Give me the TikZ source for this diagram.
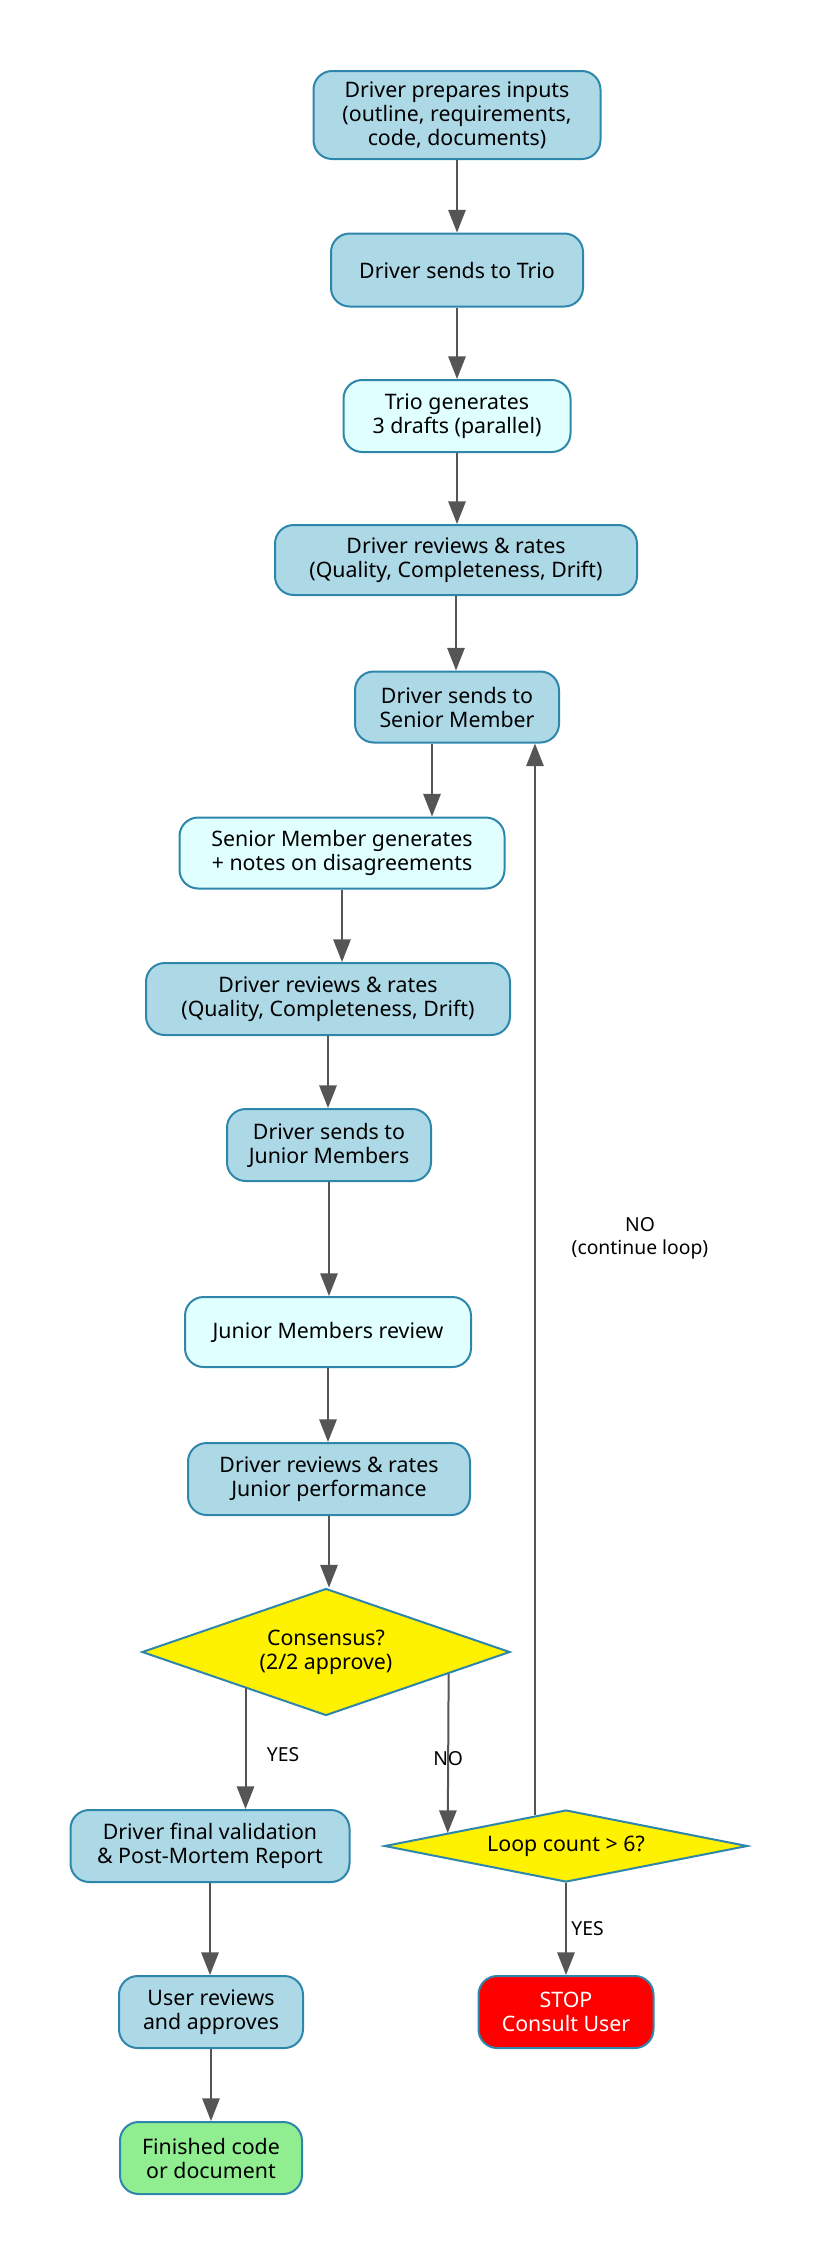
\documentclass[tikz,border=0pt]{standalone}
\usepackage{fontspec}
\setmainfont{Noto Sans}
\usetikzlibrary{calc,shapes.geometric,arrows.meta}
\definecolor{edgeblue}{RGB}{46,134,171}
\definecolor{arrgray}{RGB}{85,85,85}
\definecolor{boxblue}{RGB}{173,216,230}
\definecolor{boxcyan}{RGB}{224,255,255}
\definecolor{boxgreen}{RGB}{144,238,144}
\begin{document}
\begin{tikzpicture}[x=0.75pt,y=0.75pt,yscale=-1,xscale=1,
  box/.style={draw=edgeblue,line width=1.5pt,rounded corners=14pt,align=center,inner sep=0pt,
    font=\fontsize{16pt}{18pt}\selectfont},
  drv/.style={box,fill=boxblue},
  mem/.style={box,fill=boxcyan},
  dec/.style={diamond,draw=edgeblue,line width=1.5pt,fill=yellow,align=center,inner sep=0pt,
    font=\fontsize{16pt}{18pt}\selectfont},
  arr/.style={draw=arrgray,line width=1.5pt,-{Triangle[length=17pt,width=13pt]}},
  lbl/.style={font=\fontsize{14.5pt}{17pt}\selectfont,align=center}]
\useasboundingbox (0,0) rectangle (821,2268);

%Main column
\node[drv,minimum width=287*0.75pt,minimum height=88*0.75pt] (prep) at (457,115) {Driver prepares inputs\\(outline, requirements,\\code, documents)};
\node[drv,minimum width=252*0.75pt,minimum height=73*0.75pt] (send1) at (457,270) {Driver sends to Trio};
\node[mem,minimum width=227*0.75pt,minimum height=72*0.75pt] (trio) at (457,416) {Trio generates\\3 drafts (parallel)};
\node[drv,minimum width=362*0.75pt,minimum height=70*0.75pt] (rev1) at (456,560) {Driver reviews \& rates\\(Quality, Completeness, Drift)};
\node[drv,minimum width=204*0.75pt,minimum height=71*0.75pt] (send2) at (457,707) {Driver sends to\\Senior Member};
\node[mem,minimum width=325*0.75pt,minimum height=71*0.75pt] (snr) at (342,853) {Senior Member generates\\+ notes on disagreements};
\node[drv,minimum width=364*0.75pt,minimum height=72*0.75pt] (rev2) at (328,999) {Driver reviews \& rates\\(Quality, Completeness, Drift)};
\node[drv,minimum width=204*0.75pt,minimum height=72*0.75pt] (send3) at (329,1145) {Driver sends to\\Junior Members};
\node[mem,minimum width=286*0.75pt,minimum height=70*0.75pt] (jnr) at (328,1332) {Junior Members review};
\node[drv,minimum width=282*0.75pt,minimum height=72*0.75pt] (rev3) at (329,1479) {Driver reviews \& rates\\Junior performance};
\node[dec,shape aspect=2.9,minimum width=368*0.75pt,minimum height=127*0.75pt] (cons) at (326,1652) {Consensus?\\(2/2 approve)};

%Lower part
\node[drv,minimum width=279*0.75pt,minimum height=72*0.75pt] (valid) at (210,1846) {Driver final validation\\\& Post-Mortem Report};
\node[dec,shape aspect=5,minimum width=363*0.75pt,minimum height=72*0.75pt] (loop) at (566,1846) {Loop count > 6?};
\node[drv,minimum width=184*0.75pt,minimum height=72*0.75pt] (user) at (211,2012) {User reviews\\and approves};
\node[box,fill=red,text=white,minimum width=175*0.75pt,minimum height=72*0.75pt] (stop) at (566,2012) {STOP\\Consult User};
\node[box,fill=boxgreen,minimum width=182*0.75pt,minimum height=72*0.75pt] (done) at (211,2158) {Finished code\\or document};

%Arrows
\draw[arr] (prep) -- (send1);
\draw[arr] (send1) -- (trio);
\draw[arr] (trio.south) -- (trio.south |- rev1.north);
\draw[arr] (rev1.south) -- (rev1.south |- send2.north);
\coordinate (s56) at ($(send2.south)+(-25,0)$);
\draw[arr] (s56) -- (s56 |- snr.north);
\draw[arr] (snr.south) -- (snr.south |- rev2.north);
\draw[arr] (rev2.south) -- (rev2.south |- send3.north);
\draw[arr] (send3.south) -- (send3.south |- jnr.north);
\draw[arr] (jnr.south) -- (jnr.south |- rev3.north);
\draw[arr] (rev3.south) -- (rev3.south |- cons.north);

%Decisions
\coordinate (yesout) at ($(cons.west)!0.565!(cons.south)$);
\draw[arr] (yesout) -- (yesout |- valid.north) node[lbl,pos=0.55,right=12pt] {YES};
\coordinate (noout) at ($(cons.east)!0.337!(cons.south)$);
\coordinate (noin) at ($(loop.west)!0.352!(loop.north)$);
\draw[arr] (noout) -- (noin) node[lbl,pos=0.53] {NO};
\coordinate (backout) at ($(loop.west)!0.83!(loop.north)$);
\draw[arr] (backout) -- (backout |- send2.south);
\node[lbl] (backlbl) at (640,1238) {NO\\(continue loop)};
\draw[arr] (loop) -- (stop) node[lbl,midway,right=0pt] {YES};
\draw[arr] (valid.south) -- (valid.south |- user.north);
\draw[arr] (user.south) -- (user.south |- done.north);

\end{tikzpicture}
\end{document}
